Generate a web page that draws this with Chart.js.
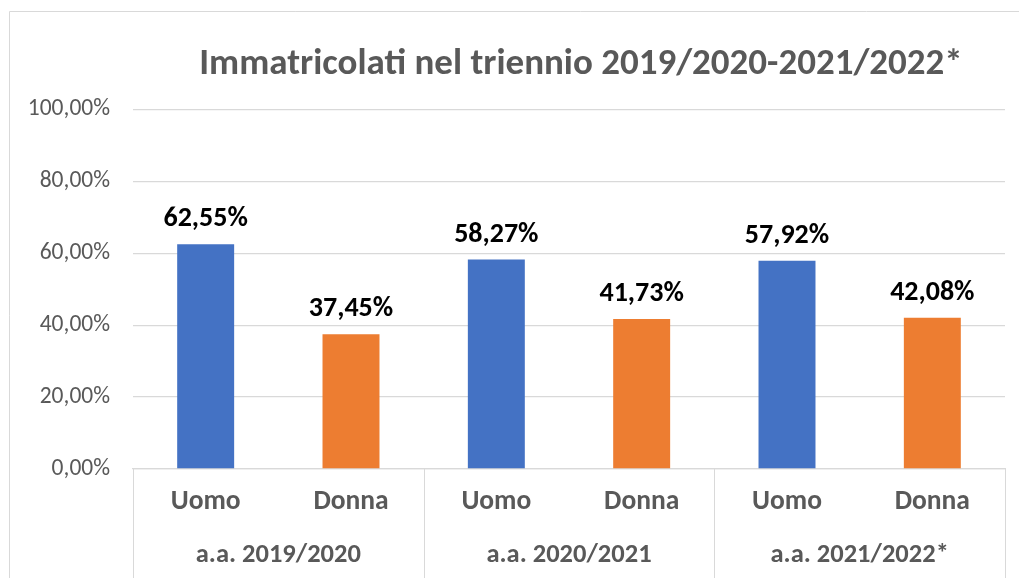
<!DOCTYPE html>
<html>
<head>
<meta charset="utf-8">
<script src="https://cdn.jsdelivr.net/npm/chart.js@4.4.1/dist/chart.umd.min.js"></script>
<style>
  html, body { margin: 0; padding: 0; background: #ffffff; overflow: hidden; width: 1019px; height: 578px; }
  #wrap { position: absolute; left: 0; top: 0; width: 1152px; height: 620px; }
</style>
</head>
<body>
<div id="wrap"><canvas id="c" width="1152" height="620"></canvas></div>
<script>
const titleText = 'Immatricolati nel triennio 2019/2020-2021/2022*';
const categories = ['Uomo', 'Donna', 'Uomo', 'Donna', 'Uomo', 'Donna'];
const groupLabels = ['a.a. 2019/2020', 'a.a. 2020/2021', 'a.a. 2021/2022*'];
const values = [62.55, 37.45, 58.27, 41.73, 57.92, 42.08];
const barColors = ['#4472C4', '#ED7D31', '#4472C4', '#ED7D31', '#4472C4', '#ED7D31'];
const yTicks = [0, 20, 40, 60, 80, 100];

const FONT = 'Carlito, Lato, "Open Sans", sans-serif';
const GRAY = '#595959';
const LINE = '#d9d9d9';

function fmt(v) {
  return v.toFixed(2).replace('.', ',') + '%';
}

const framePlugin = {
  id: 'frame',
  beforeDraw(chart) {
    const ctx = chart.ctx;
    ctx.save();
    ctx.strokeStyle = LINE;
    ctx.lineWidth = 1;
    ctx.beginPath();
    ctx.moveTo(9.5, chart.height);
    ctx.lineTo(9.5, 11.5);
    ctx.lineTo(chart.width, 11.5);
    ctx.stroke();
    ctx.restore();
  }
};

const titlePlugin = {
  id: 'customTitle',
  afterDraw(chart) {
    const ctx = chart.ctx;
    ctx.save();
    ctx.font = 'bold 37px ' + FONT;
    ctx.fillStyle = GRAY;
    ctx.textAlign = 'center';
    ctx.textBaseline = 'alphabetic';
    ctx.fillText(titleText, 581, 74);
    ctx.restore();
  }
};

const separatorPlugin = {
  id: 'separators',
  afterDraw(chart) {
    const x2 = chart.scales.x2;
    const x = chart.scales.x;
    const ctx = chart.ctx;
    const n = groupLabels.length;
    ctx.save();
    ctx.strokeStyle = LINE;
    ctx.lineWidth = 1;
    for (let i = 0; i <= n; i++) {
      const px = Math.round(x2.left + i * x2.width / n) + 0.5;
      ctx.beginPath();
      ctx.moveTo(px, x.top);
      ctx.lineTo(px, chart.height);
      ctx.stroke();
    }
    ctx.restore();
  }
};

const labelPlugin = {
  id: 'barLabels',
  afterDatasetsDraw(chart) {
    const ctx = chart.ctx;
    const meta = chart.getDatasetMeta(0);
    ctx.save();
    ctx.font = 'bold 28px ' + FONT;
    ctx.fillStyle = '#000000';
    ctx.textAlign = 'center';
    ctx.textBaseline = 'alphabetic';
    meta.data.forEach((bar, i) => {
      ctx.fillText(fmt(values[i]), bar.x, bar.y - 18);
    });
    ctx.restore();
  }
};

new Chart(document.getElementById('c'), {
  type: 'bar',
  data: {
    labels: categories,
    datasets: [{
      data: values,
      backgroundColor: barColors,
      borderWidth: 0,
      barPercentage: 0.392,
      categoryPercentage: 1.0
    }]
  },
  options: {
    responsive: false,
    animation: false,
    layout: { padding: { left: 0, top: 109.5, right: 147, bottom: 0 } },
    plugins: {
      legend: { display: false },
      title: { display: false },
      tooltip: { enabled: false }
    },
    scales: {
      y: {
        min: 0,
        max: 100,
        afterFit(scale) { scale.width = 133; },
        afterBuildTicks(scale) { scale.ticks = yTicks.map(v => ({ value: v })); },
        ticks: {
          padding: 23,
          color: GRAY,
          font: { family: FONT, size: 23.5 },
          callback: (v) => fmt(v)
        },
        grid: { color: LINE, lineWidth: 1.3, drawTicks: false },
        border: { display: false }
      },
      x: {
        type: 'category',
        position: 'bottom',
        weight: 0,
        afterFit(scale) { scale.height = 58; },
        ticks: {
          padding: 17,
          color: GRAY,
          maxRotation: 0,
          autoSkip: false,
          font: { family: FONT, size: 27.5, weight: 'bold', lineHeight: 1.2 }
        },
        grid: { display: false, drawTicks: false },
        border: { display: true, color: LINE, width: 1.3 }
      },
      x2: {
        type: 'category',
        position: 'bottom',
        weight: 1,
        labels: groupLabels,
        offset: true,
        afterFit(scale) { scale.height = 93; },
        ticks: {
          padding: 12,
          color: GRAY,
          maxRotation: 0,
          autoSkip: false,
          font: { family: FONT, size: 26.5, weight: 'bold', lineHeight: 1.2 }
        },
        grid: { display: false, drawTicks: false },
        border: { display: false }
      }
    }
  },
  plugins: [framePlugin, titlePlugin, separatorPlugin, labelPlugin]
});
</script>
</body>
</html>
